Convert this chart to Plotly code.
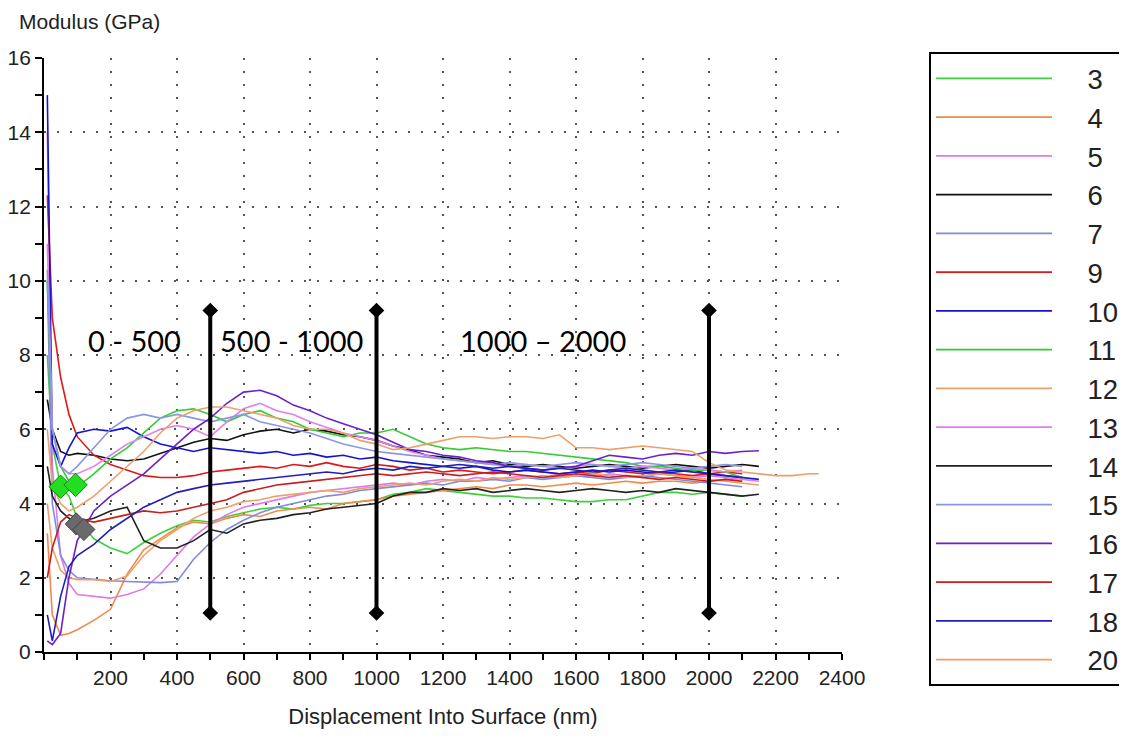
import plotly.graph_objects as go

# Displacement into surface (nm) sample positions
DEPTH = [10, 25, 50, 75, 100, 150, 200, 250, 300, 350, 400, 450, 500, 550, 600, 650, 700, 750,
         800, 850, 900, 950, 1000, 1050, 1100, 1150, 1200, 1250, 1300, 1350, 1400, 1450, 1500,
         1550, 1600, 1650, 1700, 1750, 1800, 1850, 1900, 1950, 2000, 2050, 2100, 2150, 2200,
         2250, 2300, 2330]

SERIES_NAMES = ["3", "4", "5", "6", "7", "9", "10", "11", "12", "13", "14", "15", "16", "17", "18", "20"]
SERIES_COLORS = ["#3fd03f", "#f08a4b", "#e07ae6", "#111111", "#7f8ae0", "#e01818", "#1414d0",
                 "#33cc33", "#f0a066", "#e27ff0", "#222222", "#8a96e6", "#6a22c8", "#c81e1e",
                 "#2020b8", "#eda068"]

M3 = [8.0, 5.6, 4.45, 4.2, 3.6, 3.05, 2.8, 2.65, 2.95, 3.2,
      3.4, 3.55, 3.5, 3.65, 3.75, 3.85, 3.9, 3.85, 3.95, 4.0,
      4.0, 4.05, 4.1, 4.25, 4.3, 4.4, 4.35, 4.3, 4.25, 4.2,
      4.2, 4.15, 4.15, 4.1, 4.05, 4.05, 4.1, 4.1, 4.2, 4.3,
      4.3, 4.25, 4.3, 4.25, 4.2]
M4 = [3.2, 1.0, 0.45, 0.5, 0.6, 0.85, 1.15, 2.1, 2.75, 3.05,
      3.35, 3.5, 3.45, 3.6, 3.7, 3.65, 3.8, 3.85, 3.9, 3.85,
      4.0, 4.05, 4.1, 4.2, 4.25, 4.3, 4.35, 4.4, 4.45, 4.4,
      4.5, 4.5, 4.45, 4.5, 4.55, 4.5, 4.55, 4.6, 4.55, 4.6,
      4.6, 4.55, 4.6, 4.65, 4.6]
M5 = [14.0, 5.0, 2.6, 1.85, 1.55, 1.5, 1.45, 1.55, 1.7, 2.1,
      2.6, 3.1, 3.45, 3.7, 3.9, 4.0, 4.1, 4.2, 4.3, 4.35,
      4.4, 4.45, 4.5, 4.55, 4.5, 4.6, 4.65, 4.6, 4.7, 4.65,
      4.7, 4.75, 4.7, 4.8, 4.75, 4.7, 4.8, 4.75, 4.7, 4.8,
      4.75, 4.7, 4.75, 4.7, 4.65, 4.6]
M6 = [6.8, 6.0, 5.4, 5.3, 5.35, 5.3, 5.2, 5.15, 5.2, 5.35,
      5.5, 5.65, 5.75, 5.7, 5.85, 5.95, 6.0, 5.9, 6.0, 5.95,
      5.85, 5.8, 5.7, 5.55, 5.45, 5.3, 5.25, 5.2, 5.1, 5.15,
      5.05, 5.0, 5.05, 5.0, 4.95, 5.0, 5.05, 5.0, 4.95, 5.0,
      5.05, 5.0, 4.95, 5.0, 5.05, 5.0]
M7 = [10.0, 4.0, 2.6, 2.2, 2.0, 1.95, 1.92, 1.9, 1.88, 1.87,
      1.9, 2.5, 2.95, 3.3, 3.55, 3.75, 3.9, 4.0, 4.1, 4.2,
      4.25, 4.35, 4.4, 4.45, 4.5, 4.55, 4.5, 4.6, 4.6, 4.65,
      4.6, 4.7, 4.65, 4.7, 4.75, 4.7, 4.65, 4.7, 4.75, 4.7,
      4.65, 4.6, 4.55, 4.5, 4.45]
M9 = [12.3, 9.0, 7.4, 6.4, 5.8, 5.3, 5.05, 4.9, 4.75, 4.7,
      4.7, 4.75, 4.85, 4.9, 4.95, 5.0, 4.95, 5.05, 5.0, 5.1,
      5.0, 4.95, 5.05, 5.0, 4.9, 4.95, 4.85, 4.9, 4.85, 4.8,
      4.85, 4.9, 4.85, 4.8, 4.85, 4.8, 4.9, 4.85, 4.8, 4.85,
      4.8, 4.75, 4.8, 4.85, 4.8]
M10 = [15.0, 5.6, 5.0, 5.5, 5.9, 6.0, 5.95, 6.05, 5.8, 5.6,
       5.5, 5.4, 5.5, 5.45, 5.4, 5.35, 5.4, 5.3, 5.35, 5.25,
       5.3, 5.2, 5.25, 5.15, 5.1, 5.05, 5.0, 4.95, 5.0, 4.9,
       4.85, 4.9, 4.85, 4.8, 4.85, 4.9, 4.85, 4.9, 4.85, 4.8,
       4.85, 4.9, 4.8, 4.75, 4.7]
M11 = [10.0, 6.0, 5.0, 4.6, 4.45, 4.8, 5.2, 5.5, 5.9, 6.3,
       6.5, 6.55, 6.4, 6.2, 6.4, 6.5, 6.3, 6.2, 6.0, 5.9,
       5.8, 5.9, 5.9, 6.0, 5.8, 5.6, 5.5, 5.45, 5.5, 5.45,
       5.4, 5.4, 5.35, 5.3, 5.25, 5.2, 5.15, 5.1, 5.0, 5.0,
       4.95, 4.9, 4.9, 4.85, 4.7]
M12 = [4.0, 2.8, 2.2, 2.0, 1.95, 1.95, 1.9, 2.05, 2.6, 3.0,
       3.3, 3.6, 3.8, 3.9, 4.05, 4.1, 4.2, 4.25, 4.3, 4.35,
       4.3, 4.4, 4.45, 4.5, 4.55, 4.5, 4.6, 4.65, 4.6, 4.7,
       4.65, 4.7, 4.75, 4.7, 4.75, 4.8, 4.75, 4.7, 4.75, 4.8,
       4.75, 4.7, 4.65, 4.6, 4.55, 4.5]
M13 = [11.0, 6.0, 5.0, 4.8, 4.8, 5.0, 5.3, 5.6, 5.8, 6.0,
       6.1, 6.0, 5.8, 6.2, 6.55, 6.7, 6.5, 6.4, 6.2, 6.05,
       5.9, 5.8, 5.7, 5.55, 5.4, 5.3, 5.2, 5.15, 5.1, 5.05,
       5.0, 5.05, 5.0, 4.95, 5.0, 5.05, 5.0, 4.95, 5.0, 4.95,
       4.9, 4.95, 4.9, 4.85, 4.9]
M14 = [5.0, 4.2, 3.8, 3.6, 3.5, 3.6, 3.8, 3.9, 3.0, 2.8,
       2.8, 3.0, 3.3, 3.2, 3.45, 3.55, 3.6, 3.7, 3.75, 3.85,
       3.9, 3.95, 4.0, 4.2, 4.3, 4.3, 4.4, 4.35, 4.4, 4.3,
       4.35, 4.4, 4.35, 4.3, 4.35, 4.4, 4.35, 4.3, 4.35, 4.3,
       4.4, 4.35, 4.3, 4.25, 4.2, 4.25]
M15 = [10.3, 6.0, 5.0, 4.8, 5.0, 5.5, 6.0, 6.3, 6.4, 6.3,
       6.4, 6.3, 6.2, 6.3, 6.4, 6.2, 6.1, 6.0, 5.9, 5.75,
       5.6, 5.5, 5.4, 5.35, 5.3, 5.25, 5.2, 5.15, 5.1, 5.05,
       5.1, 5.05, 5.0, 5.05, 5.1, 5.05, 5.0, 5.05, 5.1, 5.05,
       5.0, 4.95, 5.0, 5.05, 5.0]
M16 = [0.3, 0.2, 0.5, 2.0, 3.0, 3.8, 4.2, 4.5, 4.8, 5.2,
       5.6, 6.0, 6.3, 6.7, 7.0, 7.05, 6.9, 6.65, 6.5, 6.3,
       6.15, 6.0, 5.85, 5.65, 5.45, 5.4, 5.3, 5.25, 5.15, 5.1,
       5.0, 4.95, 4.9, 4.95, 5.0, 5.15, 5.3, 5.25, 5.2, 5.3,
       5.35, 5.3, 5.4, 5.35, 5.4, 5.42]
M17 = [2.0, 2.8, 3.5, 3.7, 3.6, 3.5, 3.6, 3.7, 3.8, 3.75,
       3.8, 3.9, 4.0, 4.1, 4.3, 4.4, 4.5, 4.55, 4.6, 4.65,
       4.7, 4.75, 4.8, 4.75, 4.8, 4.85, 4.8, 4.75, 4.8, 4.85,
       4.8, 4.75, 4.7, 4.75, 4.8, 4.75, 4.7, 4.75, 4.7, 4.65,
       4.7, 4.65, 4.6, 4.65, 4.6]
M18 = [1.0, 0.3, 1.5, 2.3, 2.6, 2.9, 3.3, 3.6, 3.9, 4.1,
       4.3, 4.4, 4.5, 4.55, 4.6, 4.65, 4.7, 4.75, 4.8, 4.85,
       4.8, 4.9, 4.95, 4.9, 5.0, 4.95, 5.0, 5.05, 5.0, 4.95,
       5.0, 4.95, 4.9, 4.95, 4.9, 4.85, 4.9, 4.95, 4.9, 4.85,
       4.9, 4.85, 4.8, 4.75, 4.7, 4.65]
M20 = [6.0, 4.5, 4.0, 3.8, 3.9, 4.2, 4.6, 5.0, 5.4, 5.9,
       6.3, 6.5, 6.6, 6.6, 6.5, 6.4, 6.3, 6.1, 6.0, 6.0,
       5.9, 5.7, 5.6, 5.45, 5.5, 5.6, 5.7, 5.8, 5.8, 5.75,
       5.8, 5.8, 5.75, 5.85, 5.5, 5.5, 5.45, 5.5, 5.55, 5.5,
       5.45, 5.4, 5.1, 4.9, 4.85, 4.8, 4.75, 4.75, 4.8, 4.8]

SERIES_VALUES = [M3, M4, M5, M6, M7, M9, M10, M11, M12, M13, M14, M15, M16, M17, M18, M20]

# highlighted points
GREEN_PTS_X = [50, 95]
GREEN_PTS_Y = [4.45, 4.5]
GRAY_PTS_X = [97, 120]
GRAY_PTS_Y = [3.45, 3.3]

# range markers
RANGE_X = [500, 1000, 2000]
RANGE_LOW = 1.05
RANGE_HIGH = 9.2
RANGE_LABELS = ["0 - 500", "500 - 1000", "1000 \u2013 2000"]
RANGE_LABEL_X = [271, 743, 1501]
RANGE_LABEL_Y = 8.4

X_TICKS = list(range(200, 2401, 200))
Y_TICKS = list(range(0, 17, 2))

# the page body adds an 8px offset, so the figure is laid out 8px up/left
OFF = 8
W, H = 1127 - OFF, 742 - OFF
ML, MR, MT, MB = 44 - OFF, 285, 58 - OFF, 90
PW = W - ML - MR
PH = H - MT - MB


def px_x(p):
    return (p - OFF - ML) / PW


def px_y(p):
    return (MT + PH - (p - OFF)) / PH


fig = go.Figure()

for name, color, vals in zip(SERIES_NAMES, SERIES_COLORS, SERIES_VALUES):
    yv = list(vals) + [None] * (len(DEPTH) - len(vals))
    fig.add_trace(go.Scatter(x=DEPTH, y=yv, mode="lines", name="\u00a0\u00a0\u00a0\u00a0" + name,
                             line=dict(color=color, width=1.6)))

fig.add_trace(go.Scatter(x=GREEN_PTS_X, y=GREEN_PTS_Y, mode="markers", showlegend=False,
                         marker=dict(symbol="diamond", size=18, color="#22dd22",
                                     line=dict(color="#118811", width=1))))
fig.add_trace(go.Scatter(x=GRAY_PTS_X, y=GRAY_PTS_Y, mode="markers", showlegend=False,
                         marker=dict(symbol="diamond", size=17, color="#6a6a6a",
                                     line=dict(color="#444444", width=1))))

for rx in RANGE_X:
    fig.add_trace(go.Scatter(x=[rx, rx], y=[RANGE_LOW, RANGE_HIGH], mode="lines+markers",
                             showlegend=False,
                             line=dict(color="black", width=4),
                             marker=dict(symbol="diamond", size=12, color="black")))

for lab, lx in zip(RANGE_LABELS, RANGE_LABEL_X):
    fig.add_annotation(x=lx, y=RANGE_LABEL_Y, text=lab, showarrow=False,
                       font=dict(family="Lato, Open Sans, sans-serif", size=29, color="black"))

fig.add_annotation(xref="paper", yref="paper", x=px_x(17), y=px_y(8), yshift=0,
                   xanchor="left", yanchor="top", text="Modulus (GPa)", showarrow=False,
                   font=dict(family="Liberation Sans, Arial", size=21, color="#222222"))

tick_font = dict(family="Liberation Sans, Arial", size=21, color="#222222")
title_font = dict(family="Liberation Sans, Arial", size=22, color="#222222")

fig.update_xaxes(range=[0, 2400], tickvals=X_TICKS, ticks="outside", ticklen=6, tickwidth=1.5,
                 tickcolor="black", showline=True, linecolor="black", linewidth=2,
                 showgrid=True, gridcolor="#555555", gridwidth=1.6, griddash="2px,11px",
                 zeroline=False, tickfont=tick_font,
                 minor=dict(dtick=100, tick0=0, ticks="outside", ticklen=6, tickwidth=1.5,
                            tickcolor="black", showgrid=False),
                 title=dict(text="Displacement Into Surface (nm)", font=title_font, standoff=20))
fig.update_yaxes(range=[0, 16], tickvals=Y_TICKS, ticks="outside", ticklen=7, tickwidth=1.5,
                 tickcolor="black", showline=True, linecolor="black", linewidth=2,
                 showgrid=True, gridcolor="#555555", gridwidth=1.6, griddash="2px,11px",
                 zeroline=False, tickfont=tick_font,
                 minor=dict(dtick=1, tick0=0, ticks="outside", ticklen=7, tickwidth=1.5,
                            tickcolor="black", showgrid=False))

fig.update_layout(
    width=W, height=H,
    margin=dict(l=ML, r=MR, t=MT, b=MB, autoexpand=False),
    paper_bgcolor="white", plot_bgcolor="white",
    legend=dict(x=px_x(929), y=px_y(52), xanchor="left", yanchor="top",
                bgcolor="white", bordercolor="black", borderwidth=2,
                font=dict(family="Liberation Sans, Arial", size=27.5, color="#222222"),
                itemwidth=116, tracegroupgap=0, maxheight=700),
)

fig.write_html("out.html")
